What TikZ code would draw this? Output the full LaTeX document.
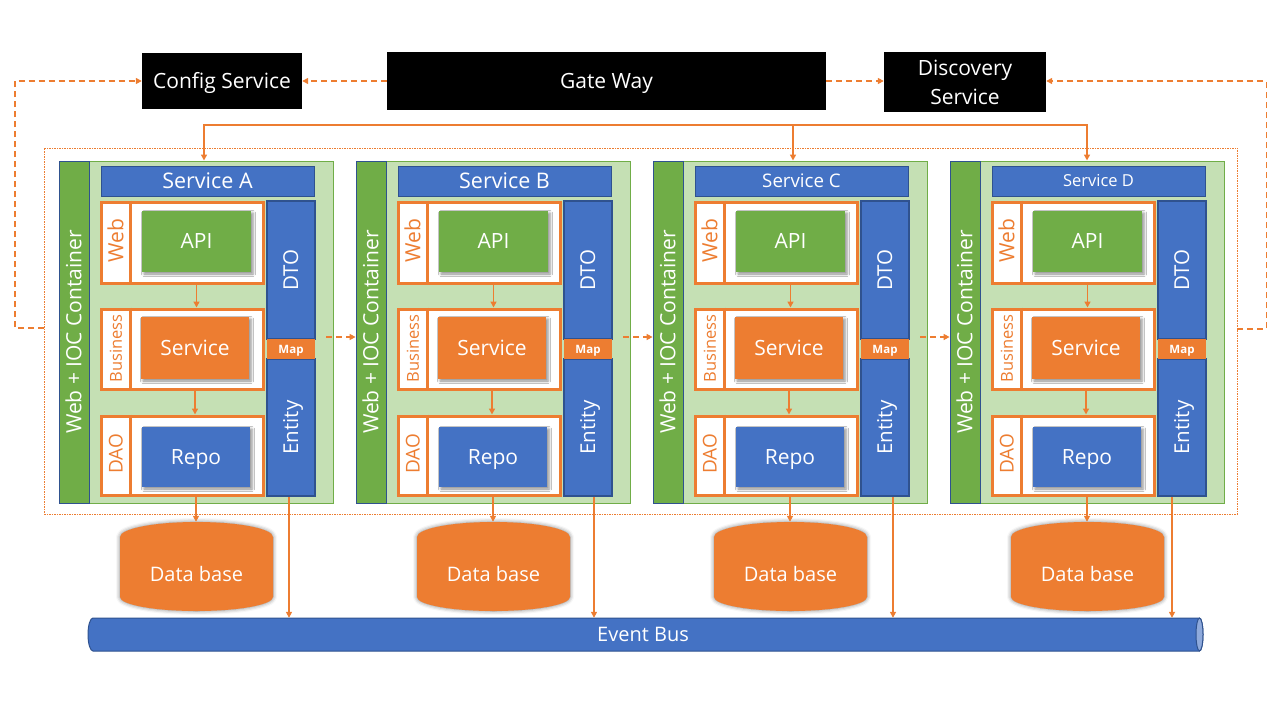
\documentclass[tikz,border=0pt]{standalone}
\usepackage{fontspec}
\setmainfont{Open Sans}
\usepackage{graphicx}
\usetikzlibrary{arrows.meta,calc,shadows.blur}
\definecolor{cOr}{HTML}{ED7D31}
\definecolor{cBl}{HTML}{4472C4}
\definecolor{cDb}{HTML}{2F528F}
\definecolor{cGr}{HTML}{70AD47}
\definecolor{cLg}{HTML}{C5E0B4}
\definecolor{cBe}{HTML}{8FAADC}
\newcommand{\fz}[1]{\fontsize{#1}{#1}\selectfont}
\newcommand{\cbox}[2][0pt]{\raisebox{#1}[0.72em][0.02em]{#2}}
\begin{document}
\begin{tikzpicture}[x=1pt,y=-1pt,
  blk/.style={fill=black,text=white,inner sep=0pt,font=\fz{21}},
  outerbox/.style={draw=cOr,line width=0.75pt,dash pattern=on 1.5pt off 1pt,inner sep=0pt},
  cont/.style={fill=cLg,draw=cGr,line width=1pt,minimum width=274pt,minimum height=342pt,inner sep=0pt},
  strip/.style={fill=cGr,draw=cDb,line width=0.8pt,minimum width=30pt,minimum height=342pt,inner sep=0pt,text=white,font=\fz{21}},
  ttl/.style={fill=cBl,draw=cDb,line width=1pt,text=white,minimum width=213pt,minimum height=30pt,inner sep=0pt},
  layer/.style={fill=white,draw=cOr,line width=3pt,minimum width=162pt,inner sep=0pt},
  lbl/.style={text=cOr,inner sep=0pt,rotate=90},
  inbox/.style={draw=none,text=white,font=\fz{21},inner sep=0pt,
    blur shadow={shadow xshift=2pt,shadow yshift=-2pt,shadow blur radius=2.5pt,shadow opacity=45}},
  col/.style={fill=cBl,draw=cDb,line width=2.5pt,text=white,minimum width=48pt,inner sep=0pt,font=\fz{20.5}},
  mapbox/.style={fill=cOr,minimum width=48pt,minimum height=20pt,inner sep=0pt,text=white,font=\bfseries\fz{11.5}},
  dbtxt/.style={minimum width=153pt,minimum height=89pt,inner sep=0pt,text=white,font=\fz{20}},
  arr/.style={draw=cOr,line width=1.5pt,-{Triangle[length=6pt,width=6pt]}},
  darr/.style={draw=cOr,line width=1.75pt,dash pattern=on 6pt off 4pt,-{Triangle[length=6pt,width=6pt]}},
  gline/.style={draw=cOr,line width=2.5pt,line cap=rect}
]
\useasboundingbox (0,0) rectangle (1280,720);

% top boxes
\node[blk,minimum width=160pt,minimum height=56pt] (cfg) at (222,81) {\cbox{Config Service}};
\node[blk,minimum width=439pt,minimum height=58pt] (gw) at (606.5,81) {\cbox{Gate Way}};
\node[blk,minimum width=162pt,minimum height=60pt,align=center,font=\fontsize{21}{29}\selectfont] (dsc) at (965,82) {Discovery\\Service};
\draw[darr] (gw.west) -- (cfg.east);
\draw[darr] (gw.east |- cfg.east) -- (dsc.west |- cfg.east);

% outer dotted container
\node[outerbox,minimum width=1193pt,minimum height=366pt] (outer) at (640.5,331) {};
\draw[darr] ($(outer.west)+(0,-3)$) -- ++(-29,0) |- (cfg.west);
\draw[darr] ($(outer.east)+(0,-2)$) -- ++(29,0) |- (dsc.east |- cfg.east);

% event bus
\path[fill=cBl,draw=cDb,line width=1pt] (93,618) -- (1199.5,618)
  .. controls (1201.4,618) and (1203,625.4) .. (1203,634.5)
  .. controls (1203,643.6) and (1201.4,651) .. (1199.5,651) -- (93,651)
  .. controls (90.2,651) and (88,643.6) .. (88,634.5)
  .. controls (88,625.4) and (90.2,618) .. (93,618) -- cycle;
\path[fill=cBe,draw=cDb,line width=1pt] (1199.5,634.5) ellipse [x radius=3.5, y radius=16.5];
\node[minimum width=1100pt,minimum height=33pt,inner sep=0pt,text=white,font=\fz{20}] (bus) at (643,634.5) {\cbox{Event Bus}};

% services
\foreach \k/\sn/\tfs/\exx in {0/A/21.5/289,1/B/21.5/297,2/C/18.7/299,3/D/16.5/281} {
\begin{scope}[xshift=\k*297pt]
  \node[cont] (cont\sn) at (196,332) {};
  \node[strip] (strip\sn) at (74,332) {\rotatebox{90}{\cbox{Web + IOC Container}}};
  \node[ttl,font=\fz{\tfs}] (ttl\sn) at (207.5,181) {\cbox{Service \sn}};
  \node[layer,minimum height=81pt] (web\sn) at (182,242.5) {};
  \node[layer,minimum height=80pt] (biz\sn) at (182,349) {};
  \node[layer,minimum height=79pt] (dao\sn) at (182,455.5) {};
  \foreach \n in {web,biz,dao}
    \draw[cOr,line width=3pt] ($(\n\sn.north west)+(30.5,0)$) -- ($(\n\sn.south west)+(30.5,0)$);
  \node[lbl,font=\fz{21}] (lw\sn) at (116,240.5) {\cbox{Web}};
  \node[lbl,font=\fz{16.5}] (lb\sn) at (116,348.5) {\cbox{Business}};
  \node[lbl,font=\fz{19}] (ld\sn) at (116,454) {\cbox{DAO}};
  \node[inbox,fill=cGr,minimum width=109pt,minimum height=61pt] (api\sn) at (196.5,241.5) {\cbox{API}};
  \node[inbox,fill=cOr,minimum width=108pt,minimum height=62pt] (svc\sn) at (195,348) {\cbox{Service}};
  \node[inbox,fill=cBl,minimum width=108pt,minimum height=60pt] (repo\sn) at (196,457) {\cbox{Repo}};
  \node[col,minimum height=138pt] (dto\sn) at (291,270) {\rotatebox{90}{\cbox{DTO}}};
  \node[col,minimum height=137pt] (ent\sn) at (291,427.5) {\rotatebox{90}{\cbox{Entity}}};
  \node[mapbox] (map\sn) at (291,349) {\cbox{Map}};
  \draw[arr] (api\sn.south |- web\sn.south) -- (api\sn.south |- biz\sn.north);
  \draw[arr] (svc\sn.south |- biz\sn.south) -- (svc\sn.south |- dao\sn.north);
  \path[fill=cOr,blur shadow={shadow xshift=0pt,shadow yshift=0pt,shadow blur radius=4pt,shadow opacity=50}]
    (120,537) .. controls (120,528.7) and (154.25,522) .. (196.5,522)
    .. controls (238.75,522) and (273,528.7) .. (273,537) -- (273,597)
    .. controls (273,604.7) and (238.75,611) .. (196.5,611)
    .. controls (154.25,611) and (120,604.7) .. (120,597) -- cycle;
  \node[dbtxt] (db\sn) at (196.5,566.5) {\cbox[-7.5pt]{Data base}};
  \draw[arr] (repo\sn.south |- dao\sn.south) -- (repo\sn.south |- db\sn.north);
  \coordinate (ea\sn) at (\exx,0);
  \draw[arr] (ea\sn |- ent\sn.south) -- (ea\sn |- bus.north);
  \coordinate (ds\sn) at (326,337);
\end{scope}
}

% flows between services
\draw[darr] (dsA) -- (dsA -| stripB.west);
\draw[darr] (dsB) -- (dsB -| stripC.west);
\draw[darr] (dsC) -- (dsC -| stripD.west);

% gateway distribution
\coordinate (g1) at (204,125);
\coordinate (g2) at (793,125);
\coordinate (g3) at (1087,125);
\draw[arr] (g1) -- (g1 |- contA.north);
\draw[arr] (g2) -- (g2 |- contC.north);
\draw[arr] (g3) -- (g3 |- contD.north);
\draw[gline] (g1) -- (g3);
\end{tikzpicture}
\end{document}
